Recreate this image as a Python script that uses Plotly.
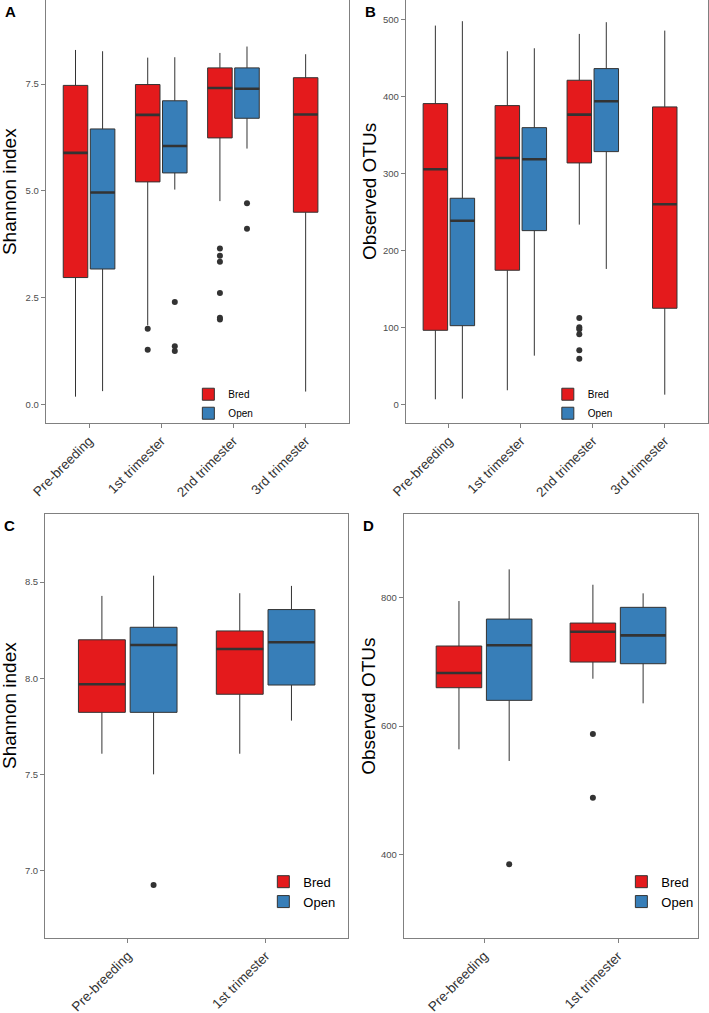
import plotly.graph_objects as go

# colour brewer Set1 fills, ggplot-like outlines
RED = '#E41A1C'
BLUE = '#377EB8'
EDGE = '#333333'
FRAME = '#808080'
FONT = 'Liberation Sans, Arial, sans-serif'
W, H = 709, 1013

STAGES_AB = ['Pre-breeding', '1st trimester', '2nd trimester', '3rd trimester']
STAGES_CD = ['Pre-breeding', '1st trimester']

# box stats per stage: lower whisker, Q1, median, Q3, upper whisker
A_BRED = [(0.18, 2.97, 5.89, 7.47, 8.30), (1.85, 5.21, 6.78, 7.49, 8.12),
          (4.76, 6.24, 7.41, 7.88, 8.23), (0.30, 4.50, 6.79, 7.65, 8.20)]
A_OPEN = [(0.31, 3.17, 4.96, 6.45, 8.27), (5.03, 5.42, 6.05, 7.11, 8.13),
          (5.99, 6.70, 7.39, 7.88, 8.38)]
# outliers: (stage index, value)
A_BRED_OUT = [(1, 1.77), (1, 1.28), (2, 3.65), (2, 3.48), (2, 3.34), (2, 2.61), (2, 2.03), (2, 1.99)]
A_OPEN_OUT = [(1, 2.40), (1, 1.36), (1, 1.25), (2, 4.71), (2, 4.11)]

B_BRED = [(7.0, 96.5, 305.4, 390.6, 491.8), (18.7, 174.4, 320.1, 388.0, 458.5),
          (233.6, 313.6, 376.3, 420.9, 481.0), (13.0, 125.1, 260.0, 386.3, 485.3)]
B_OPEN = [(7.8, 102.5, 238.7, 267.8, 497.5), (63.6, 225.8, 318.4, 359.4, 462.4),
          (176.1, 328.3, 393.7, 436.0, 496.2)]
B_BRED_OUT = [(2, 112.5), (2, 100.4), (2, 97.8), (2, 91.3), (2, 70.6), (2, 59.7)]
B_OPEN_OUT = []

C_BRED = [(7.608, 7.823, 7.969, 8.200, 8.428), (7.608, 7.917, 8.152, 8.246, 8.442)]
C_OPEN = [(7.501, 7.823, 8.173, 8.265, 8.533), (7.780, 7.965, 8.187, 8.357, 8.480)]
C_BRED_OUT = []
C_OPEN_OUT = [(0, 6.926)]

D_BRED = [(563.7, 659.7, 682.6, 724.7, 794.8), (673.7, 699.7, 747.0, 760.5, 820.2)]
D_OPEN = [(545.5, 640.0, 725.8, 766.7, 844.2), (635.4, 697.1, 741.3, 785.0, 806.8)]
D_BRED_OUT = [(1, 587.5), (1, 488.3)]
D_OPEN_OUT = [(0, 384.5)]

BOX_W = 0.34
DODGE = 0.1875


def add_group(fig, stats, out, xs, color, name, sfx, legend, show):
    xa, ya = 'x' + sfx, 'y' + sfx
    fig.add_trace(go.Box(
        x=xs, lowerfence=[s[0] for s in stats], q1=[s[1] for s in stats],
        median=[s[2] for s in stats], q3=[s[3] for s in stats],
        upperfence=[s[4] for s in stats], width=BOX_W, whiskerwidth=0,
        fillcolor=color, line=dict(color=EDGE, width=1), boxpoints=False,
        name=name, legend=legend, showlegend=show, xaxis=xa, yaxis=ya))
    # thick median bar like ggplot's fatten=2
    mx, my = [], []
    for x, s in zip(xs, stats):
        mx += [x - BOX_W / 2, x + BOX_W / 2, None]
        my += [s[2], s[2], None]
    fig.add_trace(go.Scatter(x=mx, y=my, mode='lines', line=dict(color=EDGE, width=2.6),
                             showlegend=False, hoverinfo='skip', xaxis=xa, yaxis=ya))
    if out:
        fig.add_trace(go.Scatter(x=[xs[i] for i, _ in out], y=[v for _, v in out], mode='markers',
                                 marker=dict(color=EDGE, size=6), showlegend=False,
                                 xaxis=xa, yaxis=ya))


panels = [
    # suffix, stages, bred, open, outliers, legend, x domain, y domain, y range, ticks, fmt, title, label
    ('', STAGES_AB, A_BRED, A_OPEN, A_BRED_OUT, A_OPEN_OUT, 'legend',
     [0.0645, 0.4922], [0.5827, 1.0], [-0.43, 9.47], [0, 2.5, 5, 7.5], '.1f', 'Shannon index', 'A'),
    ('2', STAGES_AB, B_BRED, B_OPEN, B_BRED_OUT, B_OPEN_OUT, 'legend2',
     [0.5722, 0.9985], [0.5827, 1.0], [-23.4, 525], [0, 100, 200, 300, 400, 500], 'd', 'Observed OTUs', 'B'),
    ('3', STAGES_CD, C_BRED, C_OPEN, C_BRED_OUT, C_OPEN_OUT, 'legend3',
     [0.0635, 0.4913], [0.0743, 0.4923], [6.652, 8.852], [7.0, 7.5, 8.0, 8.5], '.1f', 'Shannon index', 'C'),
    ('4', STAGES_CD, D_BRED, D_OPEN, D_BRED_OUT, D_OPEN_OUT, 'legend4',
     [0.5694, 0.9850], [0.0743, 0.4923], [270, 930], [400, 600, 800], 'd', 'Observed OTUs', 'D'),
]

fig = go.Figure()
layout = dict(width=W, height=H, autosize=False, margin=dict(l=0, r=0, t=0, b=0, pad=0),
              paper_bgcolor='white', plot_bgcolor='white',
              font=dict(family=FONT, color='black'), annotations=[])

for (sfx, stages, bred, opn, bred_out, open_out, legend, xdom, ydom, yrng, yticks, fmt,
     title, label) in panels:
    # a lone box (no Open group) sits on the category centre
    bx = [i - DODGE if i < len(opn) else i for i in range(len(bred))]
    ox = [i + DODGE for i in range(len(opn))]
    add_group(fig, bred, bred_out, bx, RED, 'Bred', sfx, legend, True)
    add_group(fig, opn, open_out, ox, BLUE, 'Open', sfx, legend, True)

    common = dict(showline=True, mirror=True, linecolor=FRAME, linewidth=1, showgrid=False,
                  zeroline=False, ticks='outside', ticklen=4, tickcolor=FRAME, automargin=False)
    layout['xaxis' + sfx] = dict(common, domain=xdom, range=[-0.6, len(stages) - 0.4],
                                 tickvals=list(range(len(stages))), ticktext=stages,
                                 tickangle=-45, tickfont=dict(size=13.5, color='#333333'),
                                 anchor='y' + sfx)
    layout['yaxis' + sfx] = dict(common, domain=ydom, range=yrng, tickvals=yticks,
                                 tickformat=fmt, tickfont=dict(size=9.5, color='#4d4d4d'),
                                 anchor='x' + sfx)
    big = legend in ('legend3', 'legend4')
    ymid = (sum(ydom) / 2) + 20 / H
    layout['annotations'].append(dict(
        text=title, textangle=-90, font=dict(size=19), showarrow=False, xref='paper', yref='paper',
        x=(xdom[0] * W - 36) / W, y=ymid, xanchor='center', yanchor='middle'))
    layout['annotations'].append(dict(
        text='<b>' + label + '</b>', font=dict(size=15), showarrow=False, xref='paper', yref='paper',
        x=(xdom[0] * W - 43) / W, y=ydom[1] - 1 / H, xanchor='left', yanchor='top'))
    if legend == 'legend3':
        lx, ly = xdom[1] - 85 / W, ydom[0] + 71 / H
    elif legend == 'legend4':
        lx, ly = xdom[1] - 77 / W, ydom[0] + 71 / H
    else:
        lx, ly = (xdom[0] + xdom[1]) / 2 - 9 / W, ydom[0] + 43 / H
    layout[legend] = dict(x=lx, y=ly, xanchor='left', yanchor='top', bgcolor='rgba(0,0,0,0)',
                          font=dict(size=13 if big else 10), tracegroupgap=0,
                          itemwidth=30)

fig.update_layout(**layout)
fig.write_html('out.html', config={'displayModeBar': False},
               post_script="document.body.style.margin='0';")
